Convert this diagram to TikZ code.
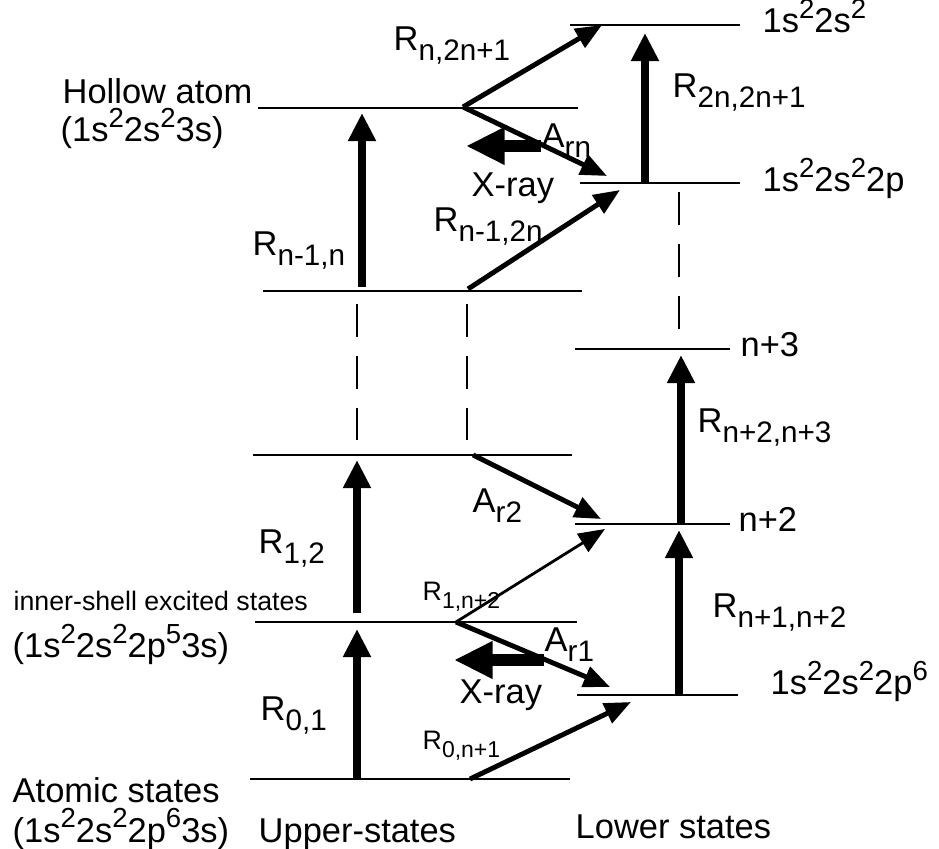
\documentclass[tikz,border=0pt]{standalone}
\usepackage{fontspec}
\setmainfont{Liberation Sans}
\usetikzlibrary{arrows.meta}
\newcommand{\spr}[1]{\raisebox{0.42em}{\scalebox{0.8}{#1}}}
\newcommand{\rt}[2]{#1\raisebox{-0.28em}{\scalebox{0.86}{#2}}}
\begin{document}
\begin{tikzpicture}[x=0.01cm, y=-0.01cm,
  lvl/.style={line width=0.6pt},
  dsh/.style={line width=0.6pt, dash pattern=on 9.4pt off 5.4pt},
  up/.style={line width=2pt, -{Triangle[length=8pt,width=7.5pt]}},
  tr/.style={line width=1.4pt, -{Triangle[length=7.5pt,width=6pt]}},
  trthin/.style={line width=0.8pt, -{Triangle[length=7.5pt,width=6pt]}},
  xray/.style={line width=3.4pt, -{Triangle[length=11pt,width=10pt]}},
  txt/.style={inner sep=0pt, anchor=base west, font=\fontsize{9.8}{12}\selectfont},
  sml/.style={inner sep=0pt, anchor=base west, font=\fontsize{7.6}{9}\selectfont}]
\useasboundingbox (0,0) rectangle (939,849);
% upper states
\draw[lvl](258,108)--(578,108);
\draw[lvl](263,291)--(582,291);
\draw[lvl](253,455)--(572,455);
\draw[lvl](255,622)--(577,622);
\draw[lvl](250,779)--(570,779);
% lower states
\draw[lvl](570,25)--(740,25);
\draw[lvl](580,183)--(740,183);
\draw[lvl](575,349)--(730,349);
\draw[lvl](575,524)--(730,524);
\draw[lvl](577,695)--(738,695);
% gaps
\draw[dsh](357,304)--(357,440);
\draw[dsh](467,304)--(467,440);
\draw[dsh](679,192)--(679,335);
% end points
\coordinate (a0) at (357,779);  \coordinate (a1) at (357,629);
\coordinate (b0) at (357,613);  \coordinate (b1) at (357,460);
\coordinate (c0) at (362,287);  \coordinate (c1) at (362,113);
\coordinate (d0) at (645,183);  \coordinate (d1) at (645,33);
\coordinate (e0) at (679,695);  \coordinate (e1) at (679,530);
\coordinate (f0) at (681,524);  \coordinate (f1) at (681,355);
\coordinate (h) at (463,107);   \coordinate (k) at (456,622);
\coordinate (g1) at (602,25);   \coordinate (g2) at (607,176);
\coordinate (m0) at (468,289);  \coordinate (m1) at (620,190);
\coordinate (p0) at (473,455);  \coordinate (p1) at (601,519);
\coordinate (q1) at (605,529);  \coordinate (q2) at (610,687);
\coordinate (s0) at (470,779);  \coordinate (s1) at (631,702);
\coordinate (x0) at (541,146);  \coordinate (x1) at (466,146);
\coordinate (y0) at (544,660);  \coordinate (y1) at (454,660);
\draw[up](a0)--(a1);
\draw[up](b0)--(b1);
\draw[up](c0)--(c1);
\draw[up](d0)--(d1);
\draw[up](e0)--(e1);
\draw[up](f0)--(f1);
\draw[tr](h)--(g1);
\draw[tr](h)--(g2);
\draw[tr](m0)--(m1);
\draw[tr](p0)--(p1);
\draw[trthin](k)--(q1);
\draw[tr](k)--(q2);
\draw[tr](s0)--(s1);
\draw[xray](x0)--(x1);
\draw[xray](y0)--(y1);
% labels
\node[txt] (lrn) at (393,51) {\rt{R}{n,2n+1}};
\node[txt] (lho) at (62,104) {Hollow atom};
\node[txt] (lhc) at (60,142) {(1s\spr{2}2s\spr{2}3s)};
\node[txt] (larn) at (541,148) {\rt{A}{rn}};
\node[txt] (lx1) at (471,197) {X-ray};
\node[txt] (lrnn) at (252,256) {\rt{R}{n-1,n}};
\node[txt] (lr2n) at (672,98) {\rt{R}{2n,2n+1}};
\node[txt] (lrn2) at (433,232) {\rt{R}{n-1,2n}};
\node[txt] (s2) at (762,33) {1s\spr{2}2s\spr{2}};
\node[txt] (s2p) at (762,192) {1s\spr{2}2s\spr{2}2p};
\node[txt] (n3) at (740,357) {n+3};
\node[txt] (lrn3) at (697,433) {\rt{R}{n+2,n+3}};
\node[txt] (lar2) at (472,513) {\rt{A}{r2}};
\node[txt] (n2) at (738,532) {n+2};
\node[txt] (lr12) at (258,554) {\rt{R}{1,2}};
\node[sml] (lr1n) at (422,601) {\rt{R}{1,n+2}};
\node[sml] (lin) at (13,611) {inner-shell excited states};
\node[txt] (linc) at (12,658) {(1s\spr{2}2s\spr{2}2p\spr{5}3s)};
\node[txt] (lrn2b) at (712,618) {\rt{R}{n+1,n+2}};
\node[txt] (lar1) at (544,652) {\rt{A}{r1}};
\node[txt] (lx2) at (459,704) {X-ray};
\node[txt] (s2p6) at (770,695) {1s\spr{2}2s\spr{2}2p\spr{6}};
\node[txt] (lr01) at (260,721) {\rt{R}{0,1}};
\node[sml] (lr0n) at (422,750) {\rt{R}{0,n+1}};
\node[txt] (lat) at (12,802) {Atomic states};
\node[txt] (latc) at (12,842) {(1s\spr{2}2s\spr{2}2p\spr{6}3s)};
\node[txt] (lup) at (258,842) {Upper-states};
\node[txt] (llo) at (575,838) {Lower states};
\end{tikzpicture}
\end{document}
